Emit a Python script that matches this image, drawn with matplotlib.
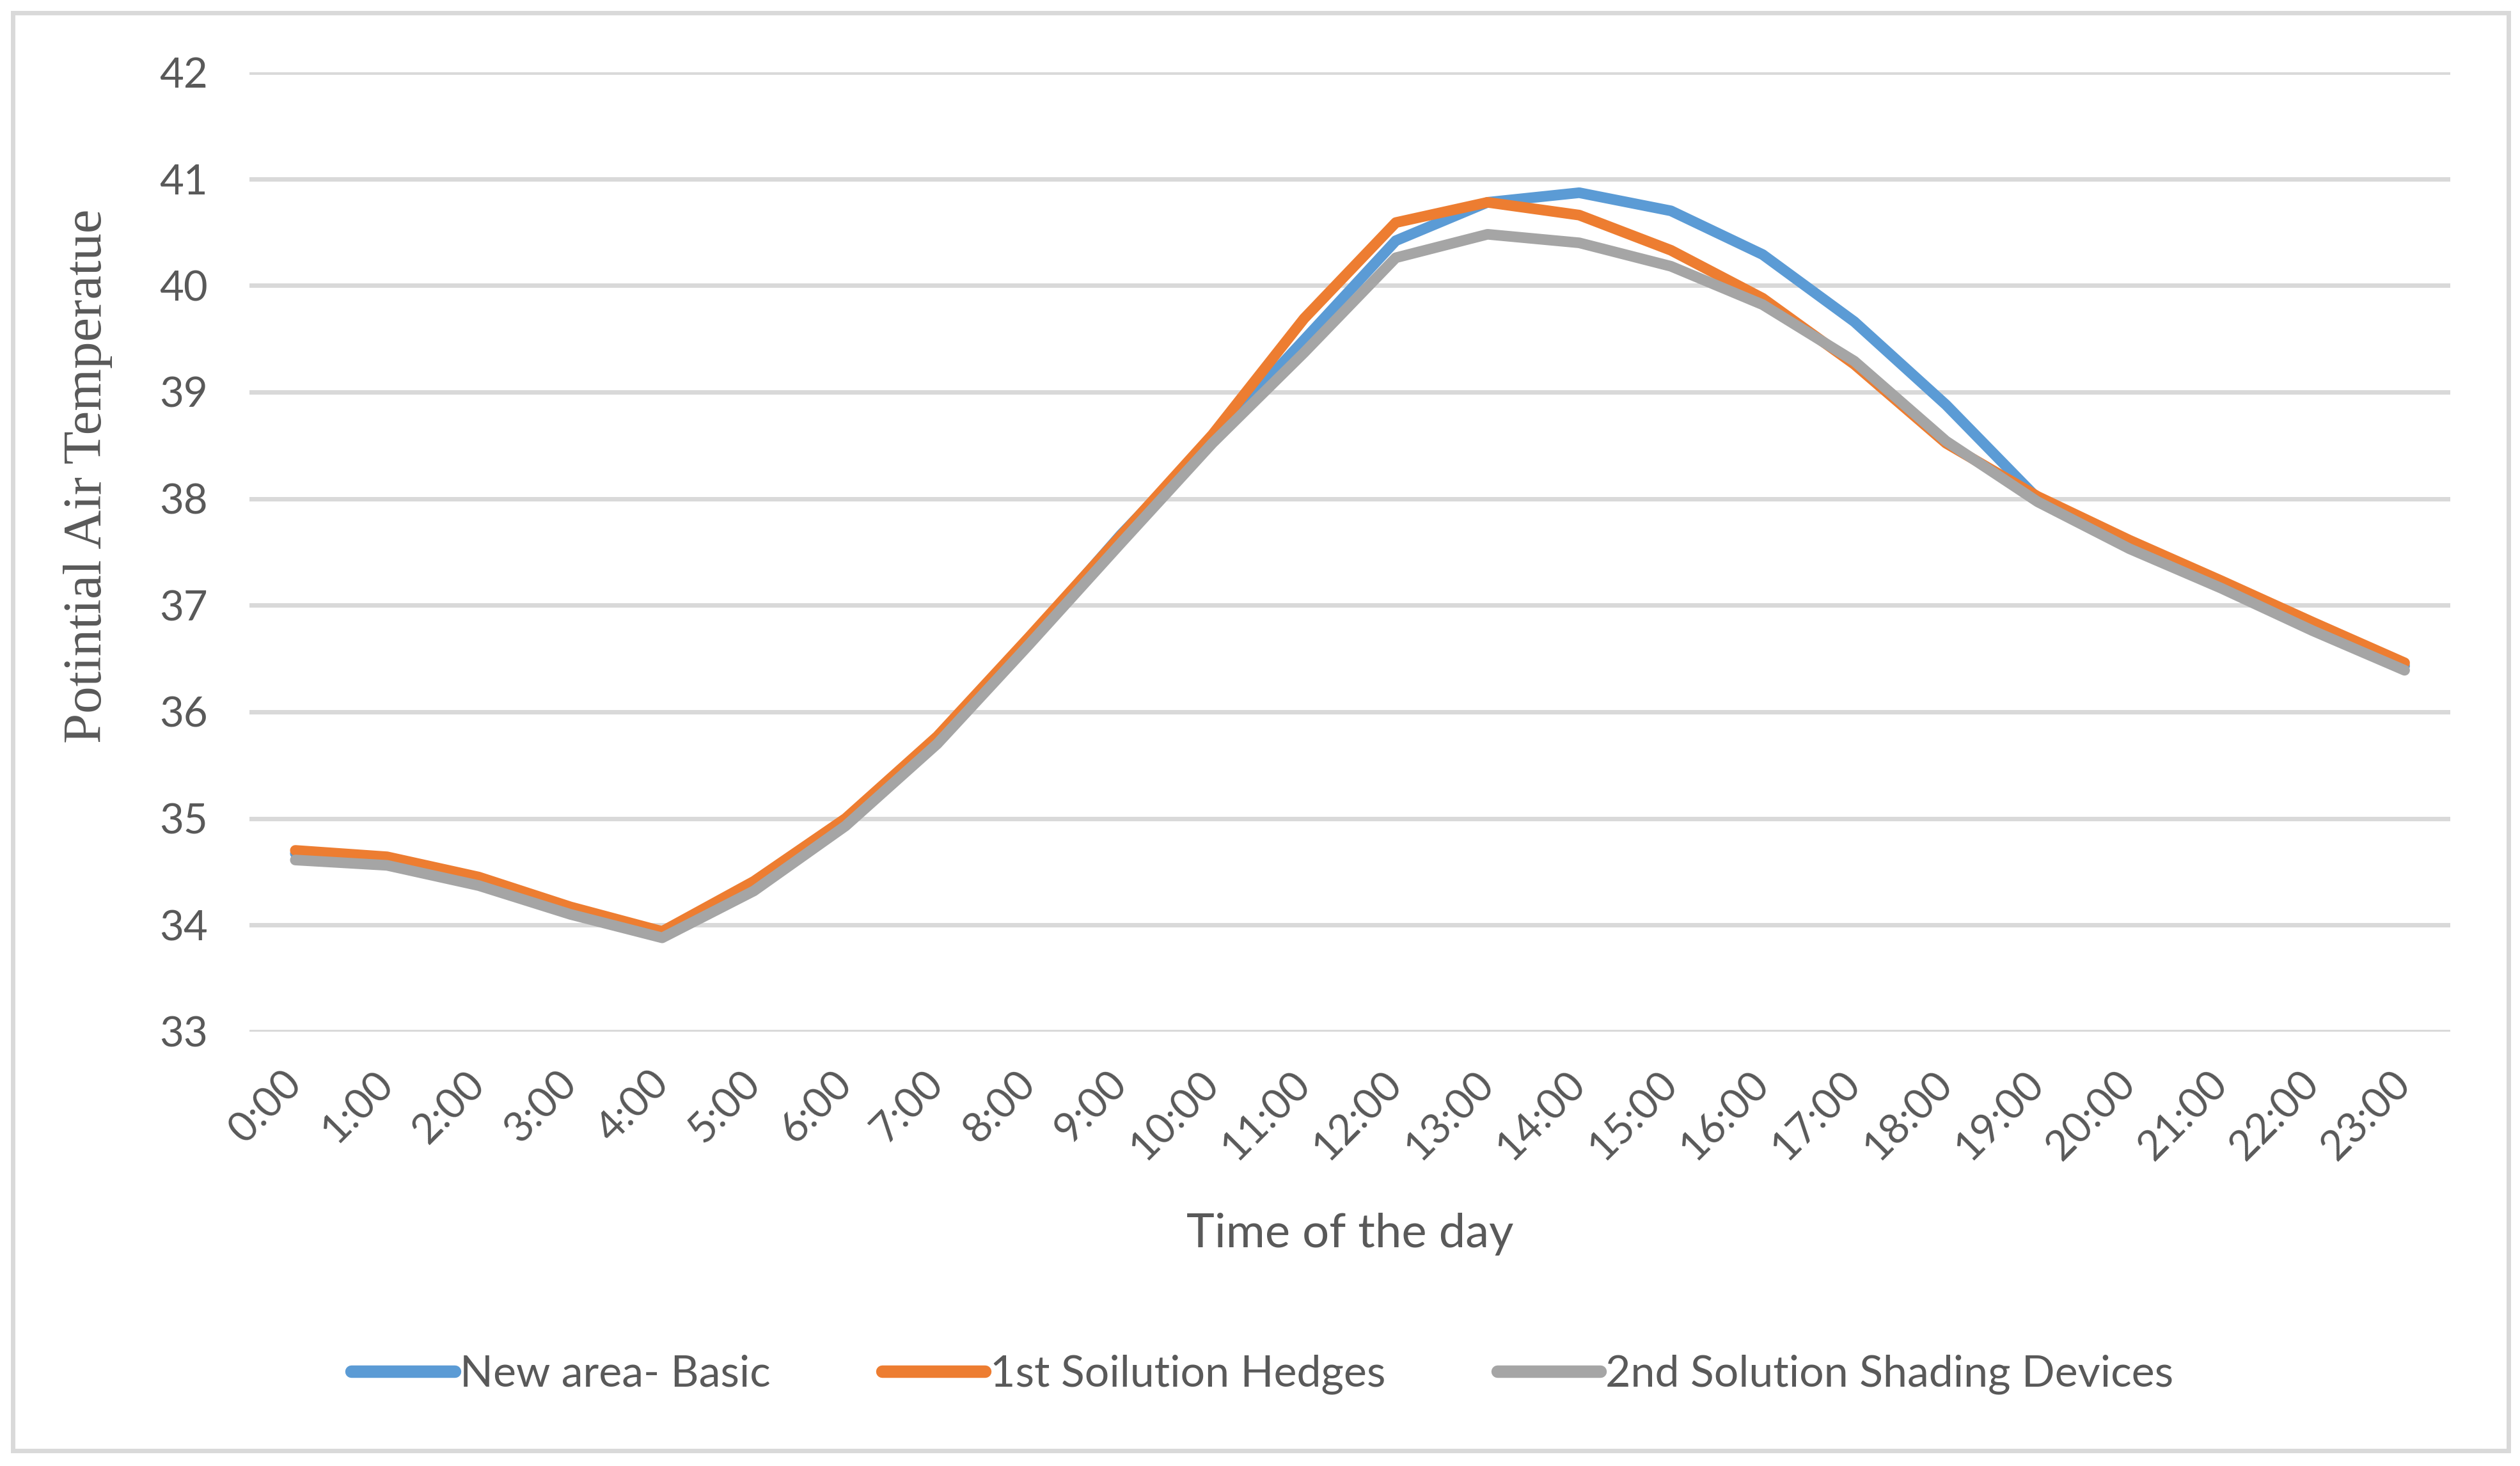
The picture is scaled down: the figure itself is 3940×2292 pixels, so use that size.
import matplotlib
matplotlib.use("Agg")
import matplotlib.pyplot as plt
from matplotlib.patches import Rectangle

hours = [f"{h}:00" for h in range(24)]

basic = [34.67, 34.60, 34.42, 34.15, 33.92, 34.38, 34.97, 35.74, 36.68, 37.66,
         38.56, 39.49, 40.42, 40.78, 40.87, 40.70, 40.29, 39.66, 38.88, 38.00,
         37.58, 37.20, 36.81, 36.43]
hedges = [34.70, 34.64, 34.45, 34.17, 33.94, 34.41, 35.00, 35.77, 36.70, 37.65,
          38.60, 39.69, 40.59, 40.78, 40.66, 40.33, 39.88, 39.26, 38.52, 38.02,
          37.61, 37.23, 36.84, 36.46]
shading = [34.61, 34.56, 34.37, 34.10, 33.88, 34.32, 34.93, 35.70, 36.63, 37.58,
           38.52, 39.37, 40.26, 40.48, 40.40, 40.18, 39.82, 39.29, 38.54, 37.97,
           37.53, 37.16, 36.76, 36.39]

series_names = ["New area- Basic", "1st Soilution Hedges", "2nd Solution Shading Devices"]
colors = ["#5B9BD5", "#ED7D31", "#A5A5A5"]
text_color = "#595959"
grid_color = "#D9D9D9"

plt.rcParams["font.family"] = ["Lato", "DejaVu Sans"]

fig = plt.figure(figsize=(39.4, 22.92), dpi=100)
ax = fig.add_axes([0.099, 0.2963, 0.8734, 0.6544])

x = list(range(len(hours)))
for vals, name, c in zip([basic, hedges, shading], series_names, colors):
    ax.plot(x, vals, color=c, lw=12, label=name,
            solid_capstyle="round", solid_joinstyle="round")

ax.set_xlim(-0.5, len(hours) - 0.5)
ax.set_ylim(33, 42)
ax.set_yticks(range(33, 43))
ax.set_xticks(x)
ax.set_xticklabels(hours, rotation=45, ha="right", va="center", rotation_mode="anchor")
ax.tick_params(axis="x", length=0, pad=52, labelsize=47, labelcolor=text_color)
ax.tick_params(axis="y", length=0, pad=47, labelsize=47, labelcolor=text_color)
ax.grid(axis="y", color=grid_color, lw=5)
ax.set_axisbelow(True)
for s in ax.spines.values():
    s.set_visible(False)

fig.text(0.5356, 0.158, "Time of the day", ha="center", va="center",
         fontsize=53.5, color=text_color)
fig.text(0.035, 0.6754, "Potintial Air Temperatue", ha="center", va="center",
         rotation=90, fontsize=61, color=text_color, family="Liberation Serif")

leg = fig.legend(loc="center", bbox_to_anchor=(0.501, 0.0624), ncol=3, frameon=False,
                 fontsize=49, labelcolor=text_color, handlelength=2.37,
                 handletextpad=0.12, columnspacing=2.56, borderpad=0)
for line in leg.get_lines():
    line.set_linewidth(14)

fig.patches.append(Rectangle((0.0051, 0.0105), 0.9904, 0.9808, transform=fig.transFigure,
                             fill=False, edgecolor=grid_color, lw=5))

fig.savefig("out.png", dpi=100, facecolor="white")
